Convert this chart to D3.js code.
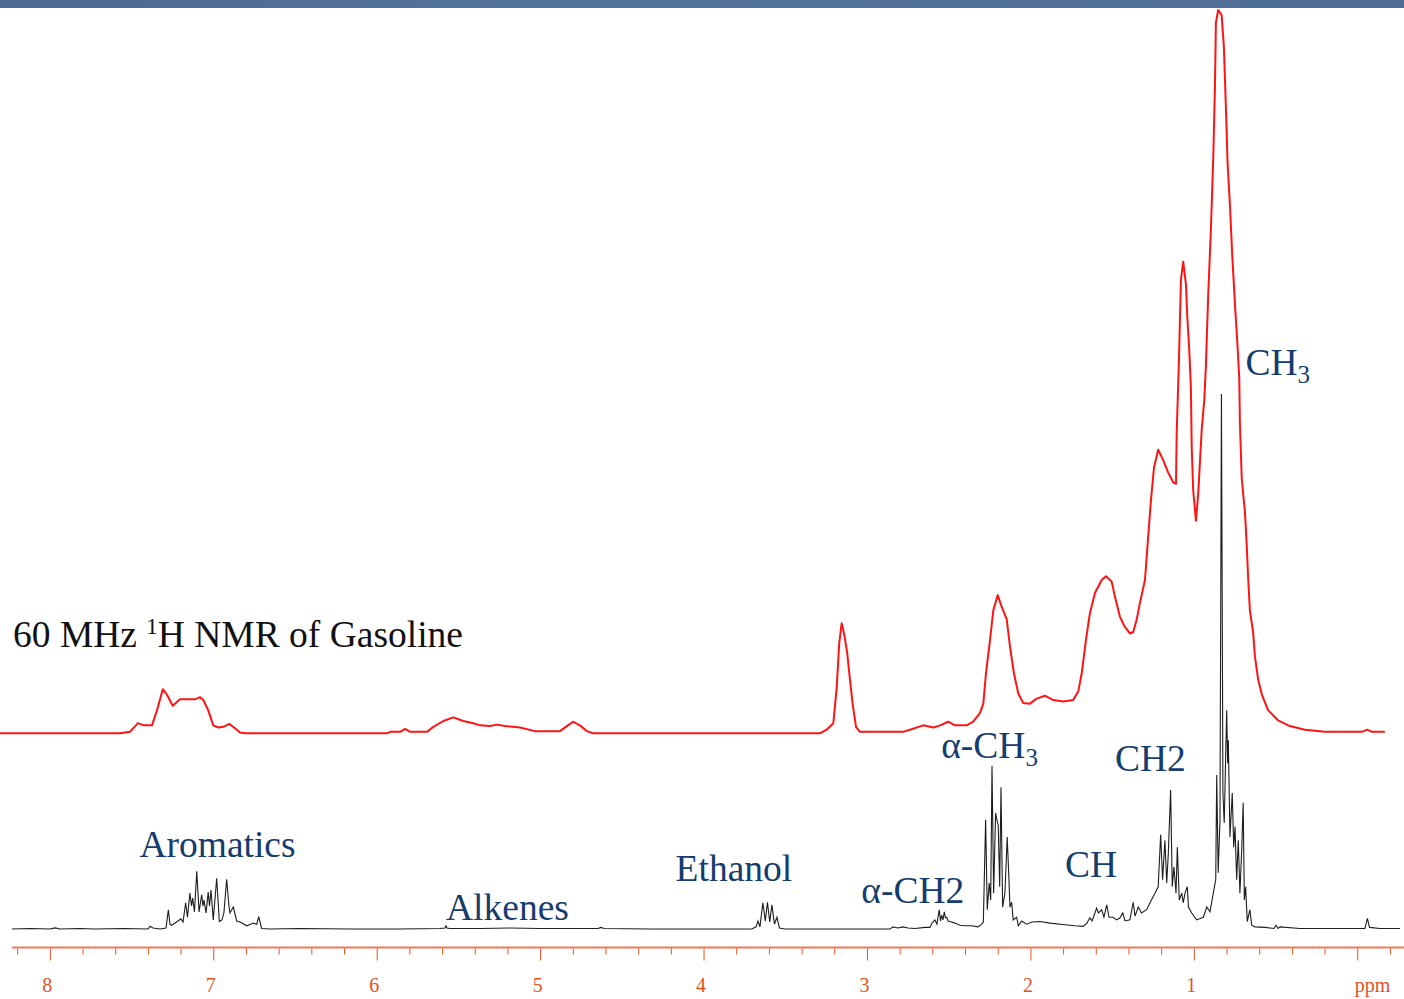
<!DOCTYPE html>
<html><head><meta charset="utf-8">
<script src="https://cdn.jsdelivr.net/npm/d3@7"></script>
<style>html,body{margin:0;padding:0;background:#fff;overflow:hidden} svg{display:block}</style>
</head><body>
<script>
// ---- DATA ----
// 60 MHz low-resolution trace: [ppm, relative intensity]
const trace60MHz = [
[8.305,0],[7.571,0],[7.510,0.2],[7.461,1.4],[7.424,1.1],[7.375,1.1],[7.344,3.2],[7.309,6.1],[7.285,5.4],[7.248,3.8],
[7.204,4.7],[7.112,4.7],[7.081,5.0],[7.061,4.6],[7.031,3.2],[7.000,1.1],[6.969,0.8],[6.939,0.9],[6.902,1.3],[6.867,0.7],
[6.836,0.1],[6.806,0],[5.937,0],[5.918,0.2],[5.857,0.2],[5.826,0.6],[5.796,0.2],[5.692,0.2],[5.653,0.9],[5.592,1.7],
[5.531,2.2],[5.470,1.7],[5.409,1.4],[5.368,1.1],[5.307,1.0],[5.264,1.2],[5.215,1.0],[5.123,0.8],[5.032,0.3],[4.879,0.3],
[4.836,1.0],[4.799,1.6],[4.757,1.1],[4.714,0.3],[4.677,0],[3.288,0],[3.247,0.5],[3.206,1.4],[3.185,6.4],[3.170,12.4],
[3.155,15.2],[3.145,14.3],[3.135,13.1],[3.121,11.1],[3.104,7.4],[3.088,4.1],[3.067,0.9],[3.043,0.2],[2.780,0.2],[2.737,0.5],
[2.656,1.1],[2.594,0.8],[2.553,1.1],[2.503,1.6],[2.462,1.1],[2.390,1.1],[2.350,1.6],[2.309,2.8],[2.288,4.1],[2.272,8.3],
[2.247,12.9],[2.227,17.0],[2.200,19.1],[2.176,17.5],[2.145,15.8],[2.125,12.0],[2.101,8.3],[2.074,5.5],[2.044,4.2],[2.003,4.1],
[1.962,4.8],[1.911,5.2],[1.860,4.6],[1.799,4.4],[1.738,4.6],[1.707,5.8],[1.686,8.3],[1.660,12.9],[1.636,16.6],[1.605,19.4],
[1.564,21.2],[1.538,21.7],[1.503,21.0],[1.483,18.9],[1.452,16.1],[1.422,14.7],[1.391,13.8],[1.371,14.0],[1.350,15.7],[1.330,18.0],
[1.299,21.2],[1.281,26.7],[1.262,32.3],[1.244,36.7],[1.218,39.2],[1.188,37.8],[1.158,36.1],[1.126,34.7],[1.109,34.5],[1.105,41.5],
[1.091,51.6],[1.079,62.7],[1.065,65.2],[1.048,62.0],[1.040,57.6],[1.028,53.0],[1.018,47.9],[1.013,39.6],[1.004,33.6],[0.987,29.4],
[0.973,33.2],[0.952,41.9],[0.936,46.1],[0.926,50.9],[0.912,60.6],[0.895,70.0],[0.881,79.7],[0.871,89.2],[0.865,98.2],[0.851,100],
[0.830,99.3],[0.816,94.9],[0.805,87.3],[0.793,78.6],[0.779,73.0],[0.765,66.1],[0.748,59.2],[0.734,54.1],[0.722,49.1],[0.718,42.9],
[0.707,35.3],[0.687,30.5],[0.677,26.3],[0.667,21.2],[0.657,17.0],[0.637,13.9],[0.626,10.6],[0.606,7.4],[0.583,5.3],[0.546,3.2],
[0.485,1.8],[0.412,1.0],[0.320,0.5],[0.198,0.2],[0.075,0.2],[-0.029,0.2],[-0.060,0.5],[-0.090,0.2],[-0.169,0.2]
];

// high-field trace: [ppm, relative intensity]
const traceHighField = [
[8.232,0],[8.12,0.1],[7.999,0],[7.968,0.2],[7.938,0],[7.815,0.1],[7.724,0],[7.55,0.1],[7.399,0],[7.387,0.5],
[7.369,0.2],[7.326,0],[7.289,0.2],[7.275,3.6],[7.265,0.9],[7.255,0.7],[7.216,1.5],[7.198,1.9],[7.185,1.3],[7.169,4.9],
[7.158,2.2],[7.143,6.7],[7.133,4.3],[7.126,5.8],[7.115,3.2],[7.101,10.8],[7.087,3.2],[7.071,6.4],[7.063,4.3],[7.057,5.4],
[7.044,3.0],[7.031,6.9],[7.023,4.3],[7.014,7.3],[7.000,1.7],[6.979,9.5],[6.963,1.4],[6.947,1.7],[6.935,3.0],[6.918,9.3],
[6.904,4.3],[6.898,3.0],[6.877,4.1],[6.857,1.5],[6.836,1.3],[6.795,0.6],[6.755,1.1],[6.734,0.9],[6.722,2.3],[6.704,0.1],
[6.653,0],[6.469,0.1],[6.163,0],[5.858,0],[5.613,0.1],[5.582,0.2],[5.576,0.6],[5.570,0.2],[5.552,0.1],[5.368,0.1],
[5.184,0.2],[5.001,0.1],[4.646,0.1],[4.628,0.3],[4.609,0.1],[4.328,0],[4.022,0],[3.716,0],
[3.704,0],[3.679,0.4],[3.667,1.5],[3.655,0.4],[3.637,4.9],[3.622,1.5],[3.609,5.0],[3.595,1.3],[3.582,4.5],[3.566,0.9],
[3.551,2.2],[3.536,0.2],[3.502,0],[3.410,0],[3.104,0],[2.859,0],
[2.841,0.4],[2.810,0.2],[2.780,0.4],[2.749,0.2],[2.706,0.1],[2.645,0.3],[2.615,0.3],[2.602,1.1],[2.584,1.7],[2.572,0.9],
[2.558,3.6],[2.550,1.5],[2.543,2.6],[2.535,1.7],[2.527,3.2],[2.520,2.1],[2.512,2.2],[2.504,1.5],[2.492,1.4],[2.462,1.1],
[2.431,0.7],[2.400,0.6],[2.359,0.6],[2.321,0.4],[2.298,0.9],[2.288,1.3],
[2.274,20.4],[2.264,3.6],[2.252,8.6],[2.243,5.4],[2.235,30.5],[2.225,6.7],[2.213,21.7],[2.205,20.4],[2.197,19.4],[2.188,7.9],
[2.180,26.5],[2.170,4.1],[2.156,6.7],[2.142,17.2],[2.133,10.5],[2.125,4.1],[2.115,5.0],[2.105,1.7],[2.084,2.2],[2.074,0.6],
[2.053,1.5],[2.023,0.9],[1.990,1.3],[1.942,1.4],[1.880,1.1],[1.789,0.8],[1.727,0.6],[1.678,0.5],
[1.654,1.1],[1.636,2.1],[1.623,1.5],[1.605,3.0],[1.595,3.9],[1.584,3.0],[1.564,3.6],[1.550,2.2],[1.533,4.5],[1.519,2.2],
[1.495,2.2],[1.472,1.7],[1.452,2.1],[1.435,3.0],[1.421,1.5],[1.391,1.7],[1.371,5.0],[1.360,2.4],[1.340,4.1],[1.320,3.0],
[1.289,3.6],[1.268,4.9],[1.238,6.7],[1.218,7.9],
[1.203,17.6],[1.191,9.2],[1.177,16.6],[1.166,8.6],[1.156,14.2],[1.142,26.0],[1.132,7.9],[1.122,11.6],[1.109,6.7],[1.101,15.3],
[1.089,5.4],[1.074,6.7],[1.065,4.9],[1.054,6.7],[1.040,7.9],[1.033,4.1],[1.013,3.0],[0.983,1.7],[0.942,2.2],[0.921,4.1],
[0.901,3.2],[0.881,6.7],[0.866,9.2],
[0.860,28.8],[0.851,10.5],[0.840,20.4],[0.831,100],[0.822,25.4],[0.814,19.8],[0.799,40.9],[0.793,31.0],[0.789,35.3],[0.779,17.2],
[0.765,25.4],[0.756,15.3],[0.748,19.1],[0.738,9.2],[0.728,16.6],[0.718,6.7],[0.707,14.8],[0.698,23.6],[0.691,5.4],[0.683,7.9],
[0.673,1.4],[0.657,3.6],[0.646,0.7],[0.626,0.4],[0.565,0.3],[0.510,0.1],[0.497,0.7],[0.485,0.1],[0.473,0.4],[0.351,0.1],
[0.167,0.1],[-0.047,0.1],[-0.062,2.0],[-0.075,0.3],[-0.139,0.1],[-0.261,0.1]
];

const majorTicks = [8,7,6,5,4,3,2,1,0];
const majorTickLabels = ["8","7","6","5","4","3","2","1","ppm"];
const minorTicks = [8.2,7.8,7.6,7.4,7.2,6.8,6.6,6.4,6.2,5.8,5.6,5.4,5.2,4.8,4.6,4.4,4.2,3.8,3.6,3.4,3.2,
  2.8,2.6,2.4,2.2,1.8,1.6,1.4,1.2,0.8,0.6,0.4,0.2,-0.2];

// region labels: text, subscript, ppm (left edge), intensity level on high-field trace scale
const regionNames = ["Aromatics","Alkenes","Ethanol","\u03b1-CH2","\u03b1-CH","CH","CH2","CH"];
const regionSubs  = ["","","","","3","","","3"];
const regionPPM   = [7.452,5.576,4.171,3.035,2.546,1.789,1.483,0.684];
const regionLevel = [13.4,1.7,9.0,4.8,31.9,9.8,29.6,103.6];

// ---- LAYOUT ----
const W = 1404, H = 999;
const FONT = "'Liberation Serif','Times New Roman',serif";
const svg = d3.select("body").append("svg").attr("width", W).attr("height", H);

const x = d3.scaleLinear().domain([8.305, -0.286]).range([0, W]);
const yRed = d3.scaleLinear().domain([0, 100]).range([733.3, 10]);
const yBlack = d3.scaleLinear().domain([0, 100]).range([929, 394]);

// top banner
const grad = svg.append("defs").append("linearGradient").attr("id","bar").attr("x1","0").attr("x2","1");
grad.append("stop").attr("offset","0").attr("stop-color","#4b6a91");
grad.append("stop").attr("offset","0.4").attr("stop-color","#52739a");
grad.append("stop").attr("offset","1").attr("stop-color","#4d6d94");
svg.append("rect").attr("x",0).attr("y",0).attr("width",W).attr("height",8).attr("fill","url(#bar)");

// traces
const lineRed = d3.line().x(d => x(d[0])).y(d => yRed(d[1]));
const lineBlack = d3.line().x(d => x(d[0])).y(d => yBlack(d[1]));

svg.append("path").datum(traceHighField).attr("d", lineBlack)
  .attr("fill","none").attr("stroke","#1e1e1e").attr("stroke-width",1.1).attr("stroke-linejoin","miter");
svg.append("path").datum(trace60MHz).attr("d", lineRed)
  .attr("fill","none").attr("stroke","#ff1414").attr("stroke-width",2).attr("stroke-linejoin","round");

// axis
const axisY = 947.5;
const axisG = svg.append("g").attr("transform",`translate(0,${axisY})`);
axisG.append("line").attr("x1", x(8.232)).attr("x2", W).attr("y1",0).attr("y2",0)
  .attr("stroke","#ef7a55").attr("stroke-width",2);
const minorAxis = d3.axisBottom(x).tickValues(minorTicks).tickSize(6).tickFormat("").tickSizeOuter(0);
const majorAxis = d3.axisBottom(x).tickValues(majorTicks).tickSize(12).tickSizeOuter(0)
  .tickFormat((d,i) => majorTickLabels[i]);
const gMinor = axisG.append("g").call(minorAxis);
const gMajor = axisG.append("g").call(majorAxis);
[gMinor, gMajor].forEach(g => {
  g.select(".domain").remove();
  g.selectAll(".tick line").attr("stroke","#e8501e").attr("stroke-width",1).attr("transform","translate(0,1)");
});
gMajor.selectAll(".tick text")
  .attr("fill","#e8501e").attr("font-family",FONT)
  .attr("font-size",20).attr("y",44.5).attr("dy",0)
  .attr("x", -3)
  .attr("text-anchor", d => d === 0 ? "start" : "middle");

// title
const title = svg.append("text").attr("x",13).attr("y",646.7)
  .attr("font-family",FONT).attr("font-size",37.5).attr("fill","#111");
title.append("tspan").text("60 MHz ");
title.append("tspan").text("1").attr("font-size",23).attr("dy",-13);
title.append("tspan").text("H NMR of Gasoline").attr("dy",13);

// region labels
regionNames.forEach((name, i) => {
  const t = svg.append("text").attr("x", x(regionPPM[i])).attr("y", yBlack(regionLevel[i]))
    .attr("font-family",FONT).attr("font-size",37.5).attr("fill","#143c6e");
  t.append("tspan").text(name);
  if (regionSubs[i]) t.append("tspan").text(regionSubs[i]).attr("font-size",25).attr("dy",8);
});
</script>
</body></html>
